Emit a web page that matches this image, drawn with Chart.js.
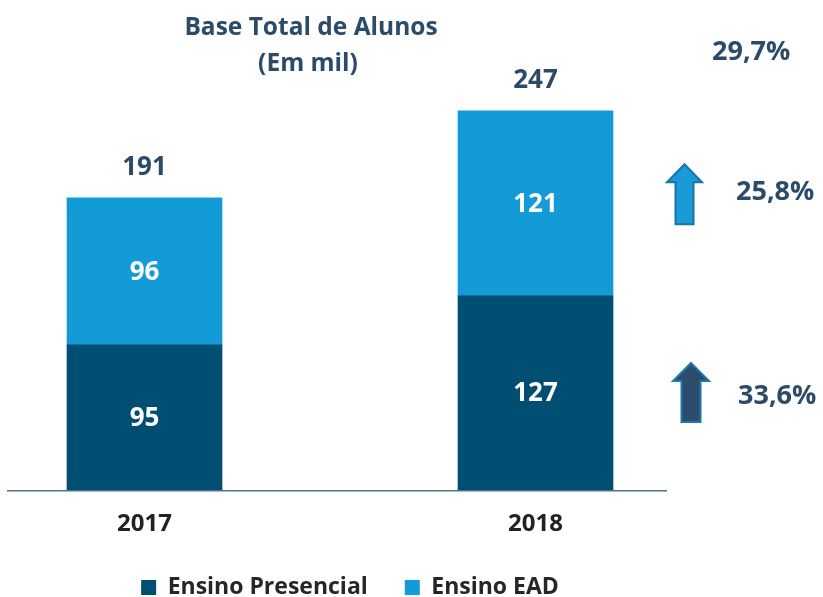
<!DOCTYPE html>
<html>
<head>
<meta charset="utf-8">
<script src="https://cdn.jsdelivr.net/npm/chart.js@4.4.0/dist/chart.umd.min.js"></script>
<style>
  html, body { margin: 0; padding: 0; background: #fff; }
  #wrap { width: 823px; height: 597px; }
</style>
</head>
<body>
<div id="wrap"><canvas id="grafico"></canvas></div>
<script>
// Dados (em mil alunos)
const anos = [2017, 2018];
const presencial = [95, 127];
const ead = [96, 121];
const totais = [191, 247];
const crescimento = [29.7, 25.8, 33.6]; // total, EAD, presencial (%)
const titulo = ['Base Total de Alunos', '(Em mil)'];
const series = ['Ensino Presencial', 'Ensino EAD'];

const FONTE = '"Open Sans", sans-serif';
const AZUL_ESCURO = '#004e72';
const AZUL_CLARO = '#139bd8';
const AZUL_TEXTO = '#2b4b68';

function porcento(v) {
    return v.toFixed(1).replace('.', ',') + '%';
}

function seta(ctx, cx, topo, base, largCabeca, largHaste, altCabeca, cor, borda) {
    const hc = largCabeca / 2, hh = largHaste / 2;
    ctx.beginPath();
    ctx.moveTo(cx, topo);
    ctx.lineTo(cx + hc, topo + altCabeca);
    ctx.lineTo(cx + hh, topo + altCabeca);
    ctx.lineTo(cx + hh, base);
    ctx.lineTo(cx - hh, base);
    ctx.lineTo(cx - hh, topo + altCabeca);
    ctx.lineTo(cx - hc, topo + altCabeca);
    ctx.closePath();
    ctx.fillStyle = cor;
    ctx.fill();
    ctx.lineWidth = 2;
    ctx.strokeStyle = borda;
    ctx.stroke();
}

const rotulosPlugin = {
    id: 'rotulos',
    afterDatasetsDraw(chart) {
        const ctx = chart.ctx;
        const area = chart.chartArea;
        ctx.save();

        // linha do eixo
        ctx.strokeStyle = '#4f7490';
        ctx.lineWidth = 1.5;
        ctx.beginPath();
        ctx.moveTo(area.left, area.bottom + 0.5);
        ctx.lineTo(area.left + 660, area.bottom + 0.5);
        ctx.stroke();

        // valores dentro das barras
        ctx.textAlign = 'center';
        ctx.textBaseline = 'middle';
        ctx.font = 'bold 26px ' + FONTE;
        ctx.fillStyle = '#ffffff';
        chart.data.datasets.forEach((ds, i) => {
            chart.getDatasetMeta(i).data.forEach((bar, j) => {
                ctx.fillText(String(ds.data[j].y), bar.x, (bar.y + bar.base) / 2 + 1);
            });
        });

        // totais acima das barras
        const topo = chart.getDatasetMeta(1).data;
        ctx.fillStyle = AZUL_TEXTO;
        totais.forEach((t, j) => ctx.fillText(String(t), topo[j].x, topo[j].y - 30));

        // titulo
        ctx.font = 'bold 24.5px ' + FONTE;
        ctx.fillText(titulo[0], 311, 28);
        ctx.fillText(titulo[1], 308, 64);

        // setas e variacoes
        const b18 = chart.getDatasetMeta(0).data[1];
        const e18 = chart.getDatasetMeta(1).data[1];
        const meioEad = (e18.y + e18.base) / 2;
        const meioPres = (b18.y + b18.base) / 2;
        seta(ctx, e18.x + 149, meioEad - 39, meioEad + 21, 35, 18, 18, '#1a9ad6', '#1577a8');
        seta(ctx, b18.x + 155.5, meioPres - 30, meioPres + 29, 36, 19, 18, '#2b4c6b', '#1f7aa8');

        ctx.textAlign = 'left';
        ctx.font = 'bold 27px ' + FONTE;
        ctx.fillStyle = AZUL_TEXTO;
        ctx.fillText(porcento(crescimento[0]), e18.x + 176.5, e18.y - 58);
        ctx.fillText(porcento(crescimento[1]), e18.x + 200.5, meioEad - 11);
        ctx.fillText(porcento(crescimento[2]), b18.x + 202.5, meioPres + 3);

        ctx.restore();
    }
};

const dados = {
    datasets: [
        {
            label: series[0],
            data: anos.map((a, i) => ({ x: a, y: presencial[i] })),
            backgroundColor: AZUL_ESCURO,
            borderWidth: 0
        },
        {
            label: series[1],
            data: anos.map((a, i) => ({ x: a, y: ead[i] })),
            backgroundColor: AZUL_CLARO,
            borderWidth: 0
        }
    ]
};

new Chart(document.getElementById('grafico'), {
    type: 'bar',
    data: dados,
    plugins: [rotulosPlugin],
    options: {
        responsive: true,
        maintainAspectRatio: false,
        animation: false,
        barThickness: 155,
        layout: { padding: { left: 7, right: 130, top: 100, bottom: -12 } },
        scales: {
            x: {
                type: 'linear',
                stacked: true,
                offset: false,
                min: 2016.6483,
                max: 2018.4028,
                afterBuildTicks: scale => { scale.ticks = anos.map(v => ({ value: v })); },
                grid: { display: false, tickLength: 20 },
                border: { display: false },
                ticks: {
                    padding: 0,
                    color: '#222222',
                    font: { family: FONTE, size: 24, weight: 'bold' },
                    callback: v => String(v)
                }
            },
            y: {
                stacked: true,
                display: false,
                min: 0,
                max: 255
            }
        },
        plugins: {
            legend: {
                position: 'bottom',
                fullSize: false,
                labels: {
                    boxWidth: 15,
                    boxHeight: 15,
                    padding: 37,
                    color: '#262626',
                    font: { family: FONTE, size: 23, weight: 'bold' }
                }
            },
            tooltip: { enabled: false }
        }
    }
});
</script>
</body>
</html>
